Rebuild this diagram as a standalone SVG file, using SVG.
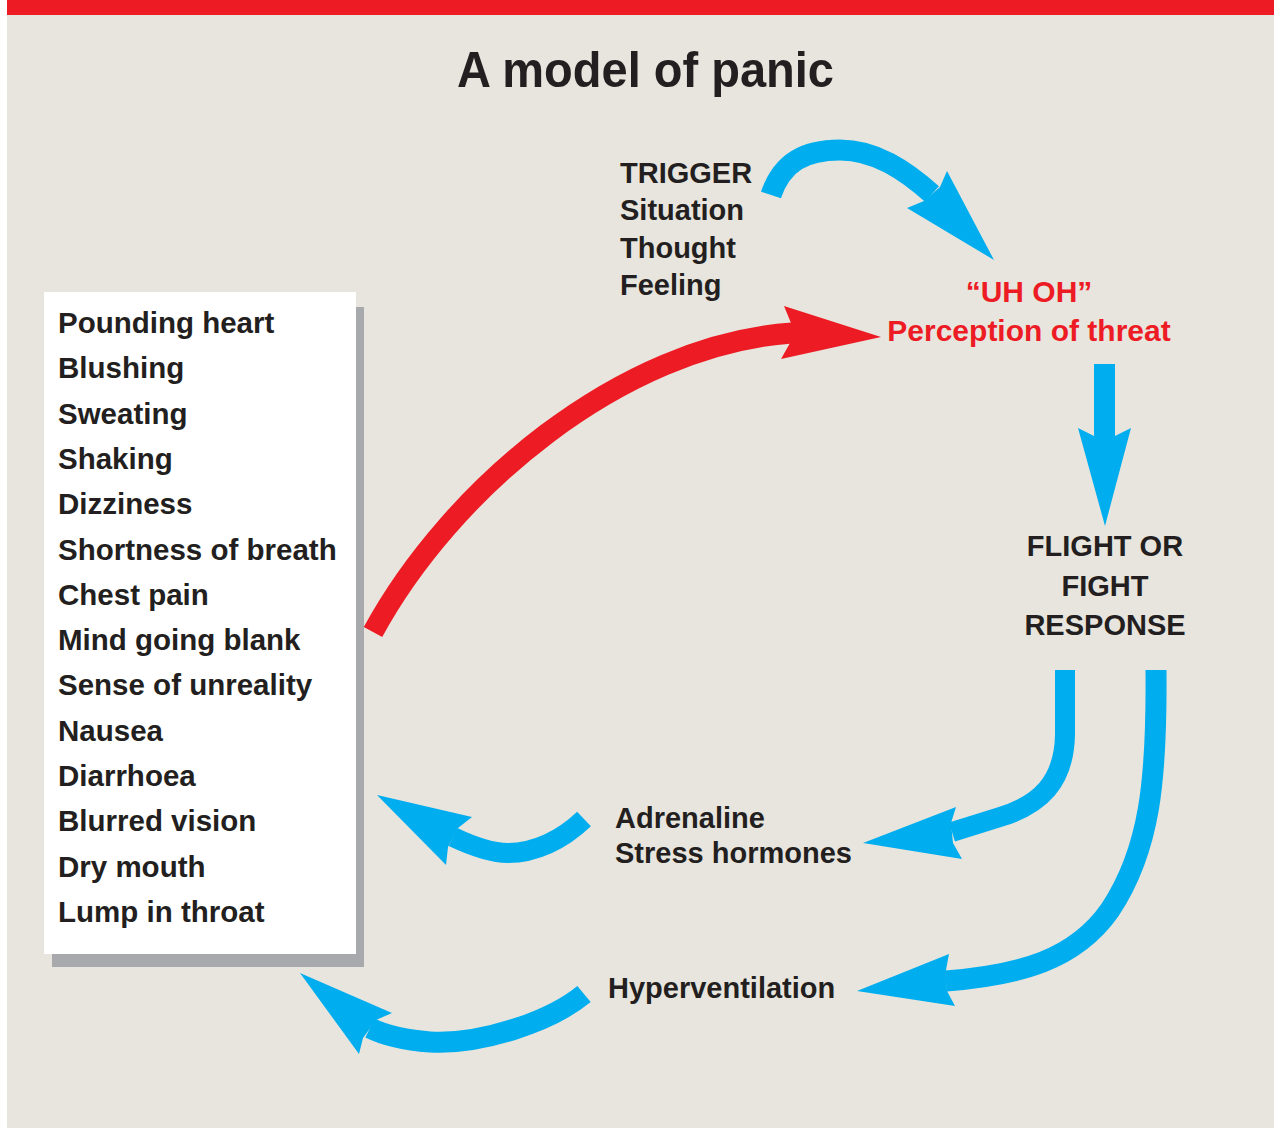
<svg xmlns="http://www.w3.org/2000/svg" width="1274" height="1128" viewBox="0 0 1274 1128">
<style>
text{font-family:"Liberation Sans",Arial,Helvetica,sans-serif;font-weight:bold;fill:#231f20;font-size:29px}
.red{fill:#ed1c24;font-size:30px}
.mid{text-anchor:middle}
.list text{font-size:29.5px}
.bshaft{fill:none;stroke:#00aeef;stroke-width:21;stroke-linecap:butt}
.rshaft{fill:none;stroke:#ed1c24;stroke-width:21;stroke-linecap:butt}
.bhead{fill:#00aeef}
.rhead{fill:#ed1c24}
</style>
<rect x="0" y="0" width="1274" height="1128" fill="#ffffff"/>
<rect x="7" y="0" width="1267" height="1128" fill="#e8e5de"/>
<rect x="7" y="0" width="1267" height="15" fill="#ed1c24"/>
<text id="title" x="457" y="87" style="font-size:50px" textLength="377" lengthAdjust="spacingAndGlyphs">A model of panic</text>

<g id="trigger">
<text x="620" y="183">TRIGGER</text>
<text x="620" y="220">Situation</text>
<text x="620" y="258">Thought</text>
<text x="620" y="295">Feeling</text>
</g>
<g id="uhoh">
<text class="red mid" x="1029" y="302">“UH OH”</text>
<text class="red mid" x="1029" y="341">Perception of threat</text>
</g>
<g id="flight">
<text class="mid" x="1105" y="556">FLIGHT OR</text>
<text class="mid" x="1105" y="596">FIGHT</text>
<text class="mid" x="1105" y="635">RESPONSE</text>
</g>
<g id="adrenaline">
<text x="615" y="828">Adrenaline</text>
<text x="615" y="863">Stress hormones</text>
</g>
<g id="hyper">
<text x="608" y="998">Hyperventilation</text>
</g>
<g id="symptoms" class="list">
<rect x="52" y="307" width="312" height="660" fill="#a7a9ac"/>
<rect x="44" y="292" width="312" height="662" fill="#ffffff"/>
<text x="58" y="333">Pounding heart</text>
<text x="58" y="378.3">Blushing</text>
<text x="58" y="423.6">Sweating</text>
<text x="58" y="468.9">Shaking</text>
<text x="58" y="514.2">Dizziness</text>
<text x="58" y="559.5">Shortness of breath</text>
<text x="58" y="604.8">Chest pain</text>
<text x="58" y="650.1">Mind going blank</text>
<text x="58" y="695.4">Sense of unreality</text>
<text x="58" y="740.7">Nausea</text>
<text x="58" y="786">Diarrhoea</text>
<text x="58" y="831.3">Blurred vision</text>
<text x="58" y="876.6">Dry mouth</text>
<text x="58" y="921.9">Lump in throat</text>
</g>

<g id="connectors">
<path class="bshaft" d="M771,195 C782,162 805,150 840,150 C875,150 905,170 932,194"/>
<polygon class="bhead" points="940,187 947,171 994,260 907,208 924,201"/>

<path class="bshaft" d="M1104.5,364 L1104.5,438"/>
<polygon class="bhead" points="1094,436 1078,428 1105,526 1131,428 1115,436"/>

<path class="rshaft" d="M373,632 C450,490 620,345 792,333"/>
<polygon class="rhead" points="791,323 784,306 881,337 781,359 790,343"/>

<path class="bshaft" style="stroke-width:20" d="M1065,670 L1065,735 C1064,782 1040,805 1000,817 L952,832"/>
<polygon class="bhead" points="951,823 956,807 863,843 962,859 953,843"/>

<path class="bshaft" d="M1156,670 C1157,780 1150,850 1110,910 C1075,960 1020,975 946,981"/>
<polygon class="bhead" points="946,970 949,954 857,991 955,1006 947,991"/>

<path class="bshaft" style="stroke-width:20" d="M584,819 C562,840 535,853 508,853 C490,853 472,846 453,837"/>
<polygon class="bhead" points="458,828 472,817 377,795 446,865 448,847"/>

<path class="bshaft" d="M584,994 C550,1022 480,1045 430,1042 C405,1040 386,1036 370,1028"/>
<polygon class="bhead" points="376,1020 392,1013 300,973 359,1054 363,1038"/>
</g>
</svg>
